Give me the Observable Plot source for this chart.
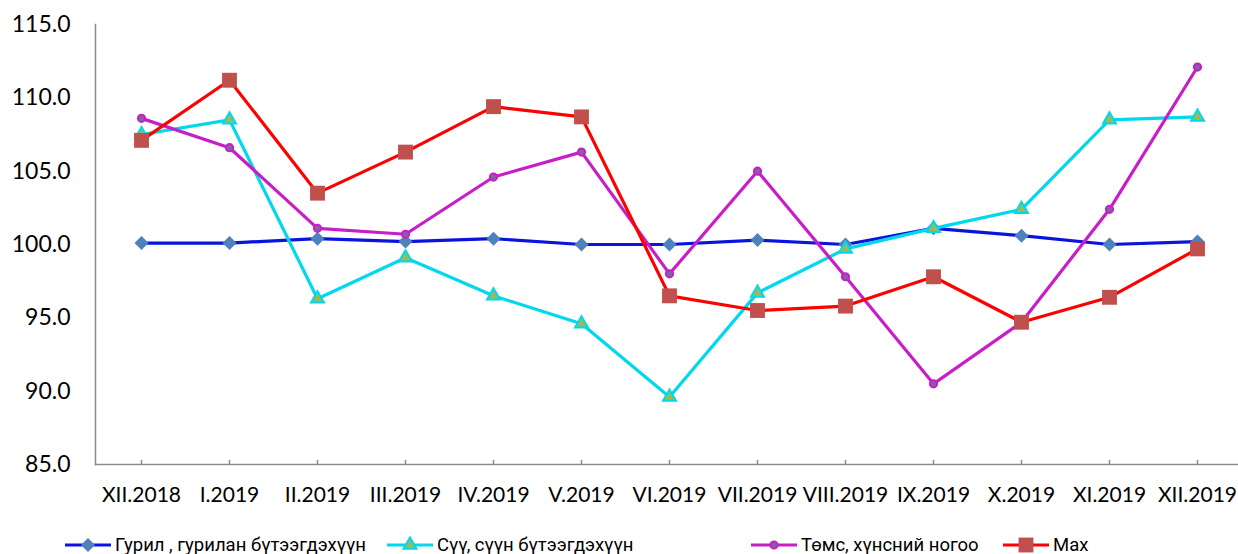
<!DOCTYPE html>
<html>
<head>
<meta charset="utf-8">
<script src="https://cdn.jsdelivr.net/npm/d3@7"></script>
<script src="https://cdn.jsdelivr.net/npm/@observablehq/plot@0.6"></script>
<style>
  html, body { margin: 0; background: #fff; font-family: Lato, sans-serif; overflow: hidden; }
  #chart svg { display: block; }
  #legend { position: relative; width: 1238px; height: 40px; }
  .item { position: absolute; top: 21px; height: 20px; line-height: 20px; display: flex; align-items: center; font-family: Roboto, sans-serif; font-size: 18.5px; color: #000; white-space: nowrap; }
  .item svg { margin-right: 4px; display: block; }
</style>
</head>
<body>
<div id="chart"></div>
<div id="legend"></div>
<script>
const months = ["XII.2018","I.2019","II.2019","III.2019","IV.2019","V.2019","VI.2019","VII.2019","VIII.2019","IX.2019","X.2019","XI.2019","XII.2019"];
const seriesNames = ["Гурил , гурилан бүтээгдэхүүн", "Сүү, сүүн бүтээгдэхүүн", "Төмс, хүнсний ногоо", "Мах"];
const gurilValues = [100.1, 100.1, 100.4, 100.2, 100.4, 100.0, 100.0, 100.3, 100.0, 101.1, 100.6, 100.0, 100.2];
const suuValues   = [107.5, 108.5, 96.3, 99.1, 96.5, 94.6, 89.6, 96.7, 99.7, 101.1, 102.4, 108.5, 108.7];
const tomsValues  = [108.6, 106.6, 101.1, 100.7, 104.6, 106.3, 98.0, 105.0, 97.8, 90.5, 94.7, 102.4, 112.1];
const makhValues  = [107.1, 111.2, 103.5, 106.3, 109.4, 108.7, 96.5, 95.5, 95.8, 97.8, 94.7, 96.4, 99.7];
const yTicks = [85, 90, 95, 100, 105, 110, 115];

const styles = [
  {line: "#0a14dc", symbol: "diamond2", fill: "#4f81bd", mstroke: "none", r: 6.3, sw: 0},
  {line: "#00d8ee", symbol: "triangle", fill: "#9bbb59", mstroke: "#00d8ee", r: 4.8, sw: 2},
  {line: "#c81ec8", symbol: "circle", fill: "#8064a2", mstroke: "#c81ec8", r: 3.6, sw: 2},
  {line: "#ff0000", symbol: "square", fill: "#c0504d", mstroke: "none", r: 8.4, sw: 0}
];
const allValues = [gurilValues, suuValues, tomsValues, makhValues];

const marks = [
  Plot.frame({anchor: "left", stroke: "#8c8c8c", strokeWidth: 1.5}),
  Plot.frame({anchor: "bottom", stroke: "#8c8c8c", strokeWidth: 1.5}),
  Plot.ruleX(months, {x: d => d, y1: 85, y2: 85.28, stroke: "#8c8c8c", strokeWidth: 1.5}),
  Plot.axisY({ticks: yTicks, tickSize: 0, tickPadding: 25, tickFormat: d3.format(".1f"), fontSize: 23, label: null, fill: "#000"}),
  Plot.axisX({tickSize: 0, tickPadding: 23, fontSize: 21, label: null, fill: "#000"})
];
allValues.forEach((vals, i) => {
  const data = months.map((m, j) => ({month: m, value: vals[j]}));
  const s = styles[i];
  marks.push(Plot.line(data, {x: "month", y: "value", stroke: s.line, strokeWidth: 3.2}));
  marks.push(Plot.dot(data, {x: "month", y: "value", symbol: s.symbol, r: s.r, fill: s.fill, stroke: s.mstroke, strokeWidth: s.sw}));
});

const chart = Plot.plot({
  width: 1238,
  height: 514,
  marginLeft: 95,
  marginRight: -4,
  marginTop: 24,
  marginBottom: 50,
  style: {fontFamily: "Lato, sans-serif", background: "#fff", overflow: "visible"},
  x: {type: "point", domain: months, padding: 0.5, axis: null},
  y: {domain: [85, 115], axis: null},
  marks
});
document.getElementById("chart").appendChild(chart);

// Legend
const legendPos = [65, 387, 751, 1003];
const legend = document.getElementById("legend");
seriesNames.forEach((name, i) => {
  const s = styles[i];
  const item = document.createElement("div");
  item.className = "item";
  item.style.left = legendPos[i] + "px";
  const sym = d3.symbol(d3[{diamond2: "symbolDiamond2", triangle: "symbolTriangle", circle: "symbolCircle", square: "symbolSquare"}[s.symbol]], Math.PI * s.r * s.r)();
  item.innerHTML = `<svg width="46" height="20" viewBox="0 0 46 20" style="overflow:visible"><line x1="0" x2="46" y1="10" y2="10" stroke="${s.line}" stroke-width="3.2"/><path transform="translate(23,10)" d="${sym}" fill="${s.fill}" stroke="${s.mstroke}" stroke-width="${s.sw}"/></svg><span>${name}</span>`;
  legend.appendChild(item);
});
</script>
</body>
</html>
